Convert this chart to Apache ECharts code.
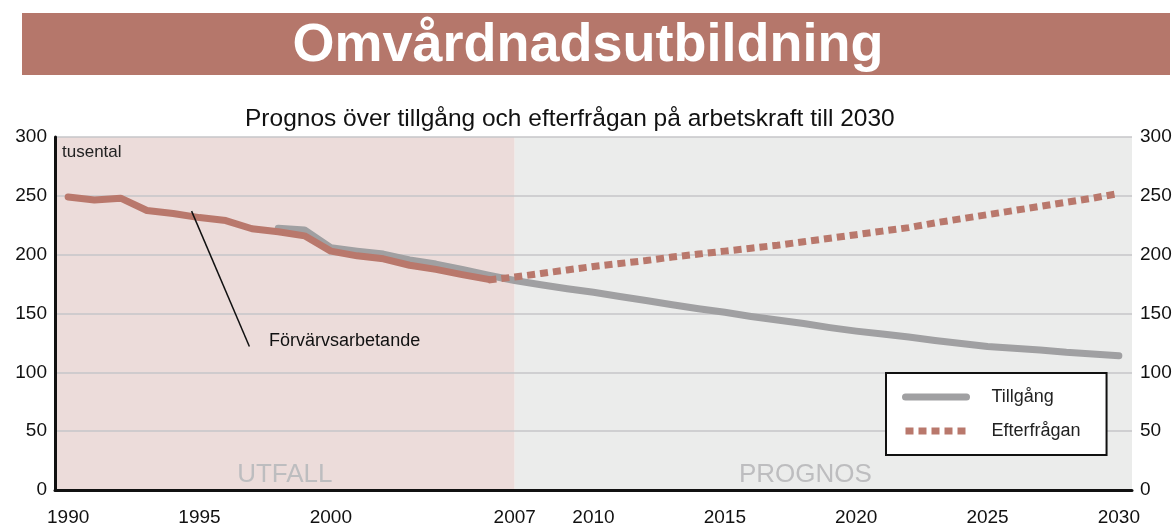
<!DOCTYPE html>
<html>
<head>
<meta charset="utf-8">
<script src="https://cdn.jsdelivr.net/npm/echarts@6/dist/echarts.min.js"></script>
<style>
html,body{margin:0;padding:0;background:#fff;}
#chart{width:1176px;height:525px;}
</style>
</head>
<body>
<div id="chart"></div>
<script>
const mainTitle = 'Omvårdnadsutbildning';
const subTitle = 'Prognos över tillgång och efterfrågan på arbetskraft till 2030';
const unitLabel = 'tusental';
const xTickYears = [1990, 1995, 2000, 2007, 2010, 2015, 2020, 2025, 2030];
const yTicks = [0, 50, 100, 150, 200, 250, 300];

const forvYears = [1990,1991,1992,1993,1994,1995,1996,1997,1998,1999,2000,2001,2002,2003,2004,2005,2006];
const forvValues = [249,246.5,248,237.5,235,231.5,229,222,219.5,216,203,199,196.5,191,187.5,183,179];

const tillYears = [1998,1999,2000,2001,2002,2003,2004,2005,2006,2007,2008,2009,2010,2011,2012,2013,2014,2015,2016,2017,2018,2019,2020,2021,2022,2023,2024,2025,2026,2027,2028,2029,2030];
const tillValues = [222.5,221,206,203,200.5,195.5,192,187.5,182.5,178,174.5,171,168,164.5,161,157.5,154,151,147.5,144.5,141.5,138,135,132.5,130,127,124.5,122,120.5,119,117,115.5,114];

const efterYears = [2006,2007,2008,2009,2010,2011,2012,2013,2014,2015,2016,2017,2018,2019,2020,2021,2022,2023,2024,2025,2026,2027,2028,2029,2030];
const efterValues = [178.5,181,184,187,190,192.5,195,198,200.5,203,205.5,208,211,214,217,220,223,227,230.5,234,237.5,241,244.5,248,252];

const periodLabels = ['UTFALL', 'PROGNOS'];
const periodBounds = [1989.5, 2007, 2030.5];
const annotation = 'Förvärvsarbetande';

const pair = (xs, ys) => xs.map((x, i) => [x, ys[i]]);
const font = 'Liberation Sans, Arial, sans-serif';

const chart = echarts.init(document.getElementById('chart'));
chart.setOption({
  animation: false,
  textStyle: { fontFamily: font },
  title: [
    { text: mainTitle, left: 'center', top: 14,
      textStyle: { color: '#ffffff', fontSize: 54, fontWeight: 'bold', fontFamily: font } },
    { text: subTitle, left: 240, top: 102,
      textStyle: { color: '#111', fontSize: 24.5, fontWeight: 'normal', fontFamily: font } }
  ],
  graphic: [
    { type: 'rect', left: 22, top: 13, z: -10, shape: { width: 1148, height: 62 }, style: { fill: '#b5776b' } },
    { type: 'text', left: 62, top: 144, z: 10, style: { text: unitLabel, fill: '#222', font: '17px ' + font } }
  ],
  grid: { left: 55, right: 44, top: 137, bottom: 35, outerBoundsMode: 'none', containLabel: false },
  legend: {
    data: ['Tillgång', 'Efterfrågan'],
    orient: 'vertical',
    left: 886, top: 373,
    backgroundColor: '#ffffff',
    borderColor: '#111',
    borderWidth: 2,
    borderRadius: 0,
    padding: [15, 26, 15, 16],
    itemWidth: 61, itemHeight: 14, itemGap: 16,
    itemStyle: { opacity: 0 },
    lineStyle: { width: 7 },
    textStyle: { fontSize: 18, color: '#222', padding: [0, 0, 0, 20], fontFamily: font }
  },
  xAxis: {
    type: 'value', min: periodBounds[0], max: periodBounds[2], z: 1,
    axisLine: { show: true, onZero: false, lineStyle: { color: '#111', width: 3 } },
    axisTick: { show: false },
    splitLine: { show: false },
    axisLabel: { customValues: xTickYears, formatter: v => String(v), color: '#111', fontSize: 19, margin: 18, fontFamily: font }
  },
  yAxis: [
    { type: 'value', min: 0, max: 300, interval: 50, z: 1,
      axisLine: { show: true, lineStyle: { color: '#111', width: 3 } },
      axisTick: { show: false },
      splitLine: { show: true, lineStyle: { color: '#c6c6c8', width: 1.5 } },
      axisLabel: { color: '#111', fontSize: 19, margin: 8, fontFamily: font } },
    { type: 'value', min: 0, max: 300, interval: 50, position: 'right', z: 1,
      axisLine: { show: false }, axisTick: { show: false }, splitLine: { show: false },
      axisLabel: { color: '#111', fontSize: 19, margin: 8, fontFamily: font } }
  ],
  series: [
    { name: 'bg', type: 'line', data: [], z: 0, silent: true,
      markArea: {
        silent: true, z: 0,
        data: [
          [{ xAxis: periodBounds[0], itemStyle: { color: '#ecdcda' },
             label: { show: true, position: 'insideBottom', formatter: periodLabels[0], color: '#bdbdbf', fontSize: 26, distance: 2, fontFamily: font } },
           { xAxis: periodBounds[1] }],
          [{ xAxis: periodBounds[1], itemStyle: { color: '#ebeceb' },
             label: { show: true, position: 'insideBottom', formatter: periodLabels[1], color: '#bdbdbf', fontSize: 26, distance: 2, offset: [-18, 0], fontFamily: font } },
           { xAxis: periodBounds[2] }]
        ]
      }
    },
    { name: 'Tillgång', type: 'line', data: pair(tillYears, tillValues), z: 2,
      symbol: 'none', color: '#a0a0a2',
      lineStyle: { color: '#a0a0a2', width: 7, cap: 'round', join: 'round' } },
    { name: 'Förvärvsarbetande', type: 'line', data: pair(forvYears, forvValues), z: 3,
      symbol: 'none', color: '#b9786c',
      lineStyle: { color: '#b9786c', width: 7, cap: 'round', join: 'round' },
      markLine: {
        silent: true, symbol: 'none',
        lineStyle: { color: '#111', width: 1.5, type: 'solid' },
        label: { show: false },
        data: [[{ coord: [1994.7, 237] }, { coord: [1996.9, 122] }]]
      },
      markPoint: {
        silent: true, symbol: 'circle', symbolSize: 0,
        label: { show: true, position: 'right', formatter: annotation, color: '#111', fontSize: 18, fontFamily: font, distance: 0 },
        data: [{ coord: [1997.65, 127] }]
      }
    },
    { name: 'Efterfrågan', type: 'line', data: pair(efterYears, efterValues), z: 4,
      symbol: 'none', color: '#b9786c',
      lineStyle: { color: '#b9786c', width: 7, type: [8, 5], cap: 'butt' } }
  ]
});
</script>
</body>
</html>
